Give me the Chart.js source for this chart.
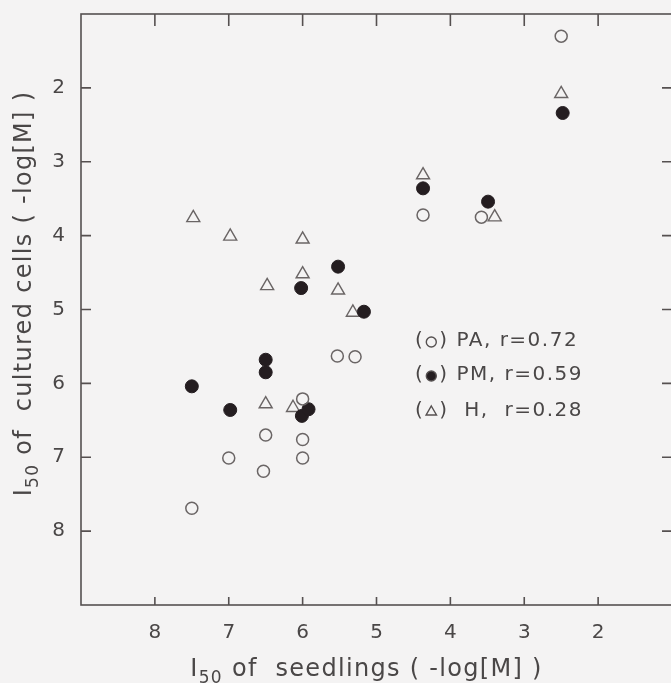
<!DOCTYPE html>
<html>
<head>
<meta charset="utf-8">
<script src="https://cdn.jsdelivr.net/npm/chart.js@4.4.1/dist/chart.umd.min.js"></script>
<style>
  html, body { margin: 0; padding: 0; overflow: hidden; background: #f4f3f3; }
  canvas { display: block; }
</style>
</head>
<body>
<canvas id="mycanvas" width="690" height="683"></canvas>
<script>
// I50 of seedlings (x) vs I50 of cultured cells (y), both -log[M]
var paPoints = [
	[2.5, 1.30], [4.37, 3.72], [3.58, 3.75], [5.53, 5.63], [5.29, 5.64], [6.0, 6.21],
	[6.5, 6.70], [6.0, 6.76], [7.0, 7.01], [6.0, 7.01], [6.53, 7.19], [7.5, 7.69]
];
var pmPoints = [
	[2.48, 2.34], [4.37, 3.36], [3.49, 3.54], [5.52, 4.42], [6.02, 4.71], [5.17, 5.03],
	[6.5, 5.68], [6.5, 5.85], [7.5, 6.04], [6.98, 6.36], [6.01, 6.44], [5.92, 6.35]
];
var hPoints = [
	[2.5, 2.08], [4.37, 3.18], [3.4, 3.75], [7.48, 3.76], [6.98, 4.01], [6.0, 4.05],
	[6.0, 4.52], [6.48, 4.68], [5.52, 4.74], [5.32, 5.04], [6.5, 6.28], [6.13, 6.33]
];
var xTicks = [8, 7, 6, 5, 4, 3, 2];
var yTicks = [2, 3, 4, 5, 6, 7, 8];
var xTitle = ["I", "50", " of  seedlings ( -log[M] )"];
var yTitle = ["I", "50", " of  cultured cells ( -log[M] )"];
var legendLines = [
	{ sym: "circle", fill: false, text: ") PA, r=0.72" },
	{ sym: "circle", fill: true, text: ") PM, r=0.59" },
	{ sym: "triangle", fill: false, text: ")  H,  r=0.28" }
];

var ink = "#4a4747";
var fontFamily = "'DejaVu Sans', sans-serif";

function toXY(arr) {
	var out = [];
	for (var i in arr) {
		out.push({ x: arr[i][0], y: arr[i][1] });
	}
	return out;
}

// title with the "50" as a subscript, centred on (cx, cy)
function drawSubTitle(ctx, parts, cx, cy, rot) {
	var big = "24px " + fontFamily, small = "17px " + fontFamily;
	ctx.save();
	ctx.letterSpacing = "1.3px";
	ctx.translate(cx, cy);
	ctx.rotate(rot);
	ctx.font = big; var w0 = ctx.measureText(parts[0]).width;
	ctx.font = small; var w1 = ctx.measureText(parts[1]).width;
	ctx.font = big; var w2 = ctx.measureText(parts[2]).width;
	var x = -(w0 + w1 + w2) / 2;
	ctx.fillStyle = ink;
	ctx.textBaseline = "alphabetic";
	ctx.font = big; ctx.fillText(parts[0], x, 0);
	ctx.font = small; ctx.fillText(parts[1], x + w0, 7);
	ctx.font = big; ctx.fillText(parts[2], x + w0 + w1, 0);
	ctx.restore();
}

// box with inward tick marks on all four sides, titles and the key
var framePlugin = {
	id: "frame",
	afterDraw: function(chart) {
		var ctx = chart.ctx;
		var a = chart.chartArea;
		var sx = chart.scales.x, sy = chart.scales.y;
		var len = 10;
		ctx.save();
		ctx.strokeStyle = "#555050";
		ctx.lineWidth = 1.6;
		ctx.strokeRect(a.left, a.top, a.right - a.left, a.bottom - a.top);
		ctx.beginPath();
		xTicks.forEach(function(v) {
			var px = sx.getPixelForValue(v);
			ctx.moveTo(px, a.top); ctx.lineTo(px, a.top + len + 2);
			ctx.moveTo(px, a.bottom); ctx.lineTo(px, a.bottom - len + 2);
		});
		yTicks.forEach(function(v) {
			var py = sy.getPixelForValue(v);
			ctx.moveTo(a.left, py); ctx.lineTo(a.left + len, py);
			ctx.moveTo(a.right, py); ctx.lineTo(a.right - len, py);
		});
		ctx.stroke();
		ctx.restore();

		drawSubTitle(ctx, xTitle, (a.left + a.right) / 2 - 10, 676, 0);
		drawSubTitle(ctx, yTitle, 31, (a.top + a.bottom) / 2 - 16, -Math.PI / 2);

		// key inside the plot
		ctx.save();
		ctx.font = "20px " + fontFamily;
		ctx.letterSpacing = "1.5px";
		ctx.textBaseline = "middle";
		var lx = 415, ly = [341, 375, 411];
		legendLines.forEach(function(l, i) {
			var y = ly[i];
			ctx.fillStyle = ink;
			ctx.fillText("(", lx, y);
			var w = ctx.measureText("(").width;
			ctx.strokeStyle = "#555050";
			ctx.fillStyle = l.fill ? "#241d20" : "rgba(0,0,0,0)";
			ctx.lineWidth = 1.4;
			Chart.helpers.drawPoint(ctx, { pointStyle: l.sym, radius: l.sym == "triangle" ? 6 : 5, rotation: 0, borderWidth: 1.4 }, lx + w + 7, y + 1);
			ctx.fillStyle = ink;
			ctx.fillText(l.text, lx + w + 15, y);
		});
		ctx.restore();
	}
};

var chartdata = {
	datasets: [
		{
			label: "PA",
			data: toXY(paPoints),
			pointStyle: "circle",
			pointRadius: 6,
			borderWidth: 1.5,
			borderColor: "#6a6565",
			backgroundColor: "rgba(0,0,0,0)"
		},
		{
			label: "PM",
			data: toXY(pmPoints),
			pointStyle: "circle",
			pointRadius: 6.5,
			borderWidth: 1,
			borderColor: "#241d20",
			backgroundColor: "#241d20"
		},
		{
			label: "H",
			data: toXY(hPoints),
			pointStyle: "triangle",
			pointRadius: 7.5,
			borderWidth: 1.4,
			borderColor: "#6a6565",
			backgroundColor: "rgba(0,0,0,0)"
		}
	]
};

var ctx = document.getElementById("mycanvas");

var ScatterGraph = new Chart(ctx, {
	type: "scatter",
	data: chartdata,
	plugins: [framePlugin],
	options: {
		responsive: false,
		animation: false,
		devicePixelRatio: 1,
		layout: { padding: { top: 14, right: 18, left: 0, bottom: 0 } },
		plugins: {
			legend: { display: false },
			tooltip: { enabled: false }
		},
		scales: {
			x: {
				type: "linear",
				min: 1,
				max: 9,
				reverse: true,
				afterBuildTicks: function(s) {
					s.ticks = xTicks.map(function(v) { return { value: v }; });
				},
				afterFit: function(s) {
					s.height = 78;
					s.paddingLeft = 0;
					s.paddingRight = 0;
				},
				grid: { display: false, drawTicks: false },
				border: { display: false },
				ticks: {
					color: ink,
					padding: 16,
					maxRotation: 0,
					font: { family: fontFamily, size: 20 }
				}
			},
			y: {
				type: "linear",
				min: 1,
				max: 9,
				reverse: true,
				afterBuildTicks: function(s) {
					s.ticks = yTicks.map(function(v) { return { value: v }; });
				},
				afterFit: function(s) {
					s.width = 81;
					s.paddingTop = 0;
					s.paddingBottom = 0;
				},
				grid: { display: false, drawTicks: false },
				border: { display: false },
				ticks: {
					color: ink,
					padding: 16,
					font: { family: fontFamily, size: 20 }
				}
			}
		}
	}
});
</script>
</body>
</html>
